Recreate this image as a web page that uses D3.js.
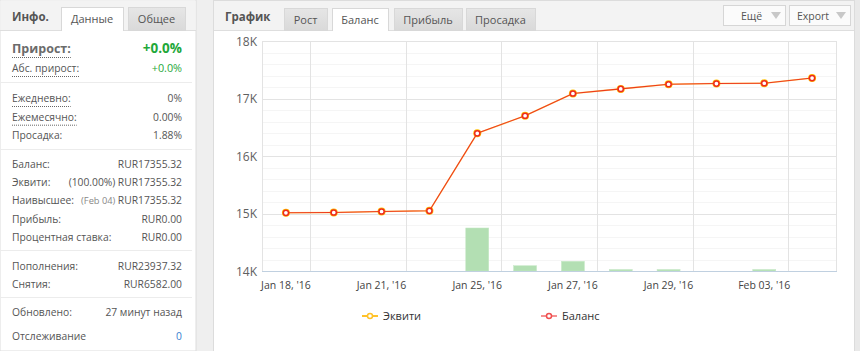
<!DOCTYPE html>
<html><head><meta charset="utf-8">
<script src="https://cdn.jsdelivr.net/npm/d3@7/dist/d3.min.js"></script>
<style>
html,body{margin:0;padding:0;background:#efefef;}
svg{display:block;font-family:"Open Sans","Noto Sans",sans-serif;}
</style></head>
<body><svg id="c" width="860" height="351"></svg>
<script>
// ---- data ----
const categories = ["Jan 18, '16","Jan 20, '16","Jan 21, '16","Jan 22, '16","Jan 25, '16","Jan 26, '16","Jan 27, '16","Jan 28, '16","Jan 29, '16","Feb 02, '16","Feb 03, '16","Feb 04, '16"];
const balance = [15012, 15017, 15035, 15047, 16395, 16700, 17087, 17167, 17248, 17260, 17265, 17355.32];
const equity  = [15012, 15017, 15035, 15047, 16395, 16700, 17087, 17167, 17248, 17260, 17265, 17355.32];
const barValues = [0, 0, 0, 0, 748, 92, 169, 26, 26, 0, 26, 0];
const yTicks = [14000, 15000, 16000, 17000, 18000];
const xLabelIdx = [0, 2, 4, 6, 8, 10];
const legendNames = ["Эквити", "Баланс"];
const infoTabs = ["Данные", "Общее"];
const chartTabs = ["Рост", "Баланс", "Прибыль", "Просадка"];
const infoRows1 = [["Ежедневно:", "0%", true], ["Ежемесячно:", "0.00%", true], ["Просадка:", "1.88%", false]];
const infoRows2 = [["Баланс:", "", "RUR17355.32"], ["Эквити:", "(100.00%)", "RUR17355.32"], ["Наивысшее:", "(Feb 04)", "RUR17355.32"], ["Прибыль:", "", "RUR0.00"], ["Процентная ставка:", "", "RUR0.00"]];
const infoRows3 = [["Пополнения:", "RUR23937.32"], ["Снятия:", "RUR6582.00"]];

const svg = d3.select("#c");
const txt = "#555";
const FS = 10.3;

// ---------- left panel ----------
svg.append("rect").attr("x",0).attr("y",0).attr("width",196).attr("height",351).attr("fill","#fff").attr("stroke","#dcdcdc");
svg.append("rect").attr("x",0.5).attr("y",0.5).attr("width",195).attr("height",30).attr("fill","#f3f3f3");
svg.append("line").attr("x1",0).attr("x2",196).attr("y1",30.5).attr("y2",30.5).attr("stroke","#dedede");
svg.append("text").attr("x",12).attr("y",21).attr("font-size",11.5).attr("font-weight","bold").attr("fill","#555").text("Инфо.");
const grad = svg.append("defs").append("linearGradient").attr("id","tabg").attr("x1",0).attr("x2",0).attr("y1",0).attr("y2",1);
grad.append("stop").attr("offset",0).attr("stop-color","#e6e6e6");
grad.append("stop").attr("offset",1).attr("stop-color","#d9d9d9");
[[61,62,true],[128,57,false]].forEach((t,i)=>{
  svg.append("rect").attr("x",t[0]+0.5).attr("y",7.5).attr("width",t[1]).attr("height",23).attr("fill",t[2]?"#fff":"url(#tabg)").attr("stroke","#d8d8d8");
  svg.append("text").attr("x",t[0]+t[1]/2).attr("y",23).attr("text-anchor","middle").attr("font-size",11).attr("fill","#555").text(infoTabs[i]);
});
svg.append("line").attr("x1",62).attr("x2",123).attr("y1",30.5).attr("y2",30.5).attr("stroke","#fff");
function dotted(x1,x2,y){svg.append("line").attr("x1",x1).attr("x2",x2).attr("y1",y+0.5).attr("y2",y+0.5).attr("stroke","#666").attr("stroke-dasharray","1,1");}
function sep(y){svg.append("line").attr("x1",0).attr("x2",192).attr("y1",y+0.5).attr("y2",y+0.5).attr("stroke","#ececec");}
const L = 12, R = 182;
let t = svg.append("text").attr("x",L).attr("y",53).attr("font-size",12.5).attr("font-weight","bold").attr("fill","#6b6b6b").text("Прирост:");
dotted(L, L + t.node().getComputedTextLength(), 57);
svg.append("text").attr("x",R).attr("y",53).attr("text-anchor","end").attr("font-size",13.5).attr("font-weight","bold").attr("fill","#1fa83a").text("+0.0%");
t = svg.append("text").attr("x",L).attr("y",72).attr("font-size",FS).attr("fill",txt).text("Абс. прирост:");
dotted(L, L + t.node().getComputedTextLength(), 76);
svg.append("text").attr("x",R).attr("y",72).attr("text-anchor","end").attr("font-size",FS+0.5).attr("fill","#1fa83a").text("+0.0%");
sep(82);
infoRows1.forEach((r,i)=>{
  const y = 102 + i*18.7;
  const tt = svg.append("text").attr("x",L).attr("y",y).attr("font-size",FS).attr("fill",txt).text(r[0]);
  if(r[2]) dotted(L, L + tt.node().getComputedTextLength(), y+4);
  svg.append("text").attr("x",R).attr("y",y).attr("text-anchor","end").attr("font-size",FS).attr("fill",txt).text(r[1]);
});
sep(149);
infoRows2.forEach((r,i)=>{
  const y = 168 + i*18.2;
  svg.append("text").attr("x",L).attr("y",y).attr("font-size",FS).attr("fill",txt).text(r[0]);
  const v = svg.append("text").attr("x",R).attr("y",y).attr("text-anchor","end").attr("font-size",FS).attr("fill",txt).text(r[2]);
  if(r[1]){
    const w = v.node().getComputedTextLength();
    const isDate = r[1].startsWith("(Feb");
    svg.append("text").attr("x",R-w-2.5).attr("y",y).attr("text-anchor","end").attr("font-size",isDate?9.3:FS).attr("fill",isDate?"#888":txt).text(r[1]);
  }
});
sep(250);
infoRows3.forEach((r,i)=>{
  const y = 270 + i*17.5;
  svg.append("text").attr("x",L).attr("y",y).attr("font-size",FS).attr("fill",txt).text(r[0]);
  svg.append("text").attr("x",R).attr("y",y).attr("text-anchor","end").attr("font-size",FS).attr("fill",txt).text(r[1]);
});
sep(297);
svg.append("text").attr("x",L).attr("y",316).attr("font-size",FS).attr("fill",txt).text("Обновлено:");
svg.append("text").attr("x",R).attr("y",316).attr("text-anchor","end").attr("font-size",FS).attr("fill",txt).text("27 минут назад");
svg.append("text").attr("x",L).attr("y",340).attr("font-size",FS).attr("fill",txt).text("Отслеживание");
svg.append("text").attr("x",R).attr("y",340).attr("text-anchor","end").attr("font-size",FS).attr("fill","#3b7fd0").text("0");

// ---------- right panel ----------
svg.append("rect").attr("x",213.5).attr("y",0.5).attr("width",641).attr("height",360).attr("fill","#fff").attr("stroke","#dcdcdc");
svg.append("rect").attr("x",214).attr("y",1).attr("width",640).attr("height",29.5).attr("fill","#f3f3f3");
svg.append("line").attr("x1",214).attr("x2",854).attr("y1",30.5).attr("y2",30.5).attr("stroke","#dedede");
svg.append("text").attr("x",225).attr("y",21).attr("font-size",11.5).attr("font-weight","bold").attr("fill","#555").text("График");
const tabPos = [[284,43],[332,56],[394,68],[466,69]];
chartTabs.forEach((n,i)=>{
  const p = tabPos[i], act = i===1;
  svg.append("rect").attr("x",p[0]+0.5).attr("y",8.5).attr("width",p[1]).attr("height",22).attr("fill",act?"#fff":"url(#tabg)").attr("stroke","#d8d8d8");
  if(act) svg.append("line").attr("x1",p[0]+1).attr("x2",p[0]+p[1]).attr("y1",30.5).attr("y2",30.5).attr("stroke","#fff");
  svg.append("text").attr("x",p[0]+p[1]/2).attr("y",24).attr("text-anchor","middle").attr("font-size",11).attr("fill","#555").text(n);
});
[["Ещё",723,62,741],["Export",789,61,797]].forEach(b=>{
  svg.append("rect").attr("x",b[1]+0.5).attr("y",5.5).attr("width",b[2]).attr("height",20).attr("fill","#fbfbfb").attr("stroke","#d6d6d6");
  svg.append("text").attr("x",b[3]).attr("y",20).attr("font-size",10.5).attr("fill","#555").text(b[0]);
  const ax = b[1]+b[2]-9;
  svg.append("path").attr("d",`M${ax-5},12 L${ax+5},12 L${ax},19 Z`).attr("fill","#c8c8c8");
});

// ---------- chart ----------
const plot = {l:262, r:836, t:41, b:271};
const x = d3.scaleBand().domain(categories).range([plot.l, plot.r]).padding(0);
const y = d3.scaleLinear().domain([14000, 18000]).range([plot.b, plot.t]);
const yBar = d3.scaleLinear().domain([0, 4000]).range([plot.b, plot.t]);
const g = svg.append("g");
g.selectAll(".minor").data(d3.range(14200, 18000, 200).filter(v=>v%1000!==0)).join("line")
  .attr("x1",plot.l).attr("x2",plot.r).attr("y1",d=>Math.round(y(d))+0.5).attr("y2",d=>Math.round(y(d))+0.5).attr("stroke","#f5f5f5");
g.selectAll(".major").data(yTicks.slice(1)).join("line")
  .attr("x1",plot.l).attr("x2",plot.r).attr("y1",d=>Math.round(y(d))+0.5).attr("y2",d=>Math.round(y(d))+0.5).attr("stroke","#e3e3e3");
const vIdx = d3.range(1, categories.length, 2);
g.selectAll(".vg").data(vIdx).join("line")
  .attr("x1",d=>Math.round(x(categories[d]))+0.5).attr("x2",d=>Math.round(x(categories[d]))+0.5)
  .attr("y1",plot.t).attr("y2",plot.b).attr("stroke","#e3e3e3");
g.append("line").attr("x1",plot.r+0.5).attr("x2",plot.r+0.5).attr("y1",plot.t).attr("y2",plot.b).attr("stroke","#e3e3e3");
g.append("line").attr("x1",plot.l+0.5).attr("x2",plot.l+0.5).attr("y1",plot.t).attr("y2",plot.b).attr("stroke","#e3e3e3");
g.selectAll(".bar").data(barValues.map((v,i)=>({v,i})).filter(d=>d.v>0)).join("rect")
  .attr("x",d=>x(categories[d.i]) + x.bandwidth()/2 - 11.5).attr("width",23)
  .attr("y",d=>yBar(d.v)).attr("height",d=>plot.b - yBar(d.v))
  .attr("fill","#b3dfb3").attr("stroke","#c6e8c6").attr("stroke-width",0.5);
g.append("line").attr("x1",plot.l).attr("x2",plot.r+1).attr("y1",plot.b+0.5).attr("y2",plot.b+0.5).attr("stroke","#c0d0e0");
g.selectAll(".yl").data(yTicks).join("text")
  .attr("x",257).attr("y",d=>y(d)+4.5).attr("text-anchor","end").attr("font-size",12).attr("fill","#606060")
  .text(d=>d3.format("~s")(d).replace("k","K"));
g.selectAll(".xl").data(xLabelIdx).join("text")
  .attr("x",d=>x(categories[d])+x.bandwidth()/2).attr("y",289).attr("text-anchor","middle").attr("font-size",10.5).attr("fill","#444")
  .text(d=>categories[d]);
const cx = i=>x(categories[i])+x.bandwidth()/2;
const line = d3.line().x((d,i)=>cx(i)).y(d=>y(d));
g.append("path").attr("d",line(equity)).attr("fill","none").attr("stroke","#ffb400").attr("stroke-width",1.6).attr("opacity",0.55);
g.selectAll(".em").data(equity).join("circle").attr("cx",(d,i)=>cx(i)).attr("cy",d=>y(d)).attr("r",4).attr("fill","#ffc000");
g.append("path").attr("d",line(balance)).attr("fill","none").attr("stroke","#ee3a1c").attr("stroke-width",1.1);
g.selectAll(".bm").data(balance).join("circle").attr("cx",(d,i)=>cx(i)).attr("cy",d=>y(d)).attr("r",2.6).attr("fill","#fff").attr("stroke","#ee2a1e").attr("stroke-width",1.5);

const leg = [[362, "#ffc22a", "#ffc22a"], [541, "#f59090", "#f05050"]];
legendNames.forEach((n,i)=>{
  const lx = leg[i][0];
  svg.append("line").attr("x1",lx).attr("x2",lx+16).attr("y1",316).attr("y2",316).attr("stroke",leg[i][1]).attr("stroke-width",2);
  svg.append("circle").attr("cx",lx+8).attr("cy",316).attr("r",2.5).attr("fill","#fff").attr("stroke",leg[i][2]).attr("stroke-width",1.5);
  svg.append("text").attr("x",lx+21).attr("y",320).attr("font-size",11).attr("fill","#333").text(n);
});

svg.append("rect").attr("x",855).attr("y",0).attr("width",5).attr("height",351).attr("fill","#e9e9e9");
</script></body></html>
